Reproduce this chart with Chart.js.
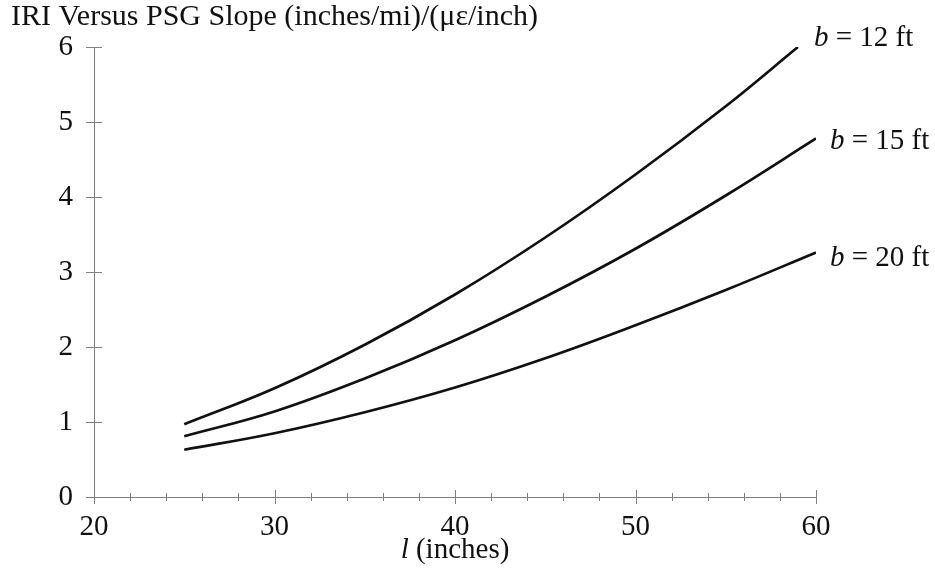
<!DOCTYPE html>
<html>
<head>
<meta charset="utf-8">
<script src="https://cdn.jsdelivr.net/npm/chart.js@4"></script>
<style>
  html, body { margin: 0; padding: 0; background: #fff; }
  #wrap { width: 935px; height: 571px; }
</style>
</head>
<body>
<div id="wrap"><canvas id="iriChart" width="935" height="571"></canvas></div>
<script>
// slab length l (inches) and IRI-vs-PSG slope for each slab width b
const len12 = [25, 30, 35, 40, 45, 50, 55, 59];
const slope12 = [0.97, 1.45, 2.03, 2.70, 3.46, 4.30, 5.21, 6.00];
const len15 = [25, 30, 35, 40, 45, 50, 55, 60];
const slope15 = [0.81, 1.14, 1.58, 2.09, 2.67, 3.31, 4.02, 4.78];
const len20 = [25, 30, 35, 40, 45, 50, 55, 60];
const slope20 = [0.63, 0.85, 1.13, 1.46, 1.85, 2.29, 2.76, 3.26];
const curveNames = ['12', '15', '20'];

const yTicks = [0, 1, 2, 3, 4, 5, 6];
const xMajor = [20, 30, 40, 50, 60];
const xMinor = [22, 24, 26, 28, 32, 34, 36, 38, 42, 44, 46, 48, 52, 54, 56, 58];

const FONT = "'Liberation Serif', 'DejaVu Serif', serif";
const AXIS_COLOR = '#808080';

function pts(xs, ys) {
    return xs.map((x, i) => ({ x: x, y: ys[i] }));
}

function series(xs, ys) {
    return {
        data: pts(xs, ys),
        borderColor: '#111',
        borderWidth: 2.7,
        pointRadius: 0,
        fill: false,
        tension: 0.4
    };
}

// tick marks crossing the axes, plus the text around the plot
const decorations = {
    id: 'decorations',
    afterDraw(chart) {
        const ctx = chart.ctx;
        const xs = chart.scales.x;
        const ys = chart.scales.y;
        const ax = xs.left;
        const ay = ys.bottom;

        ctx.save();
        ctx.strokeStyle = AXIS_COLOR;
        ctx.lineWidth = 1;
        ctx.beginPath();
        yTicks.forEach(v => {
            const py = Math.round(ys.getPixelForValue(v)) + 0.5;
            ctx.moveTo(ax - 8, py);
            ctx.lineTo(ax + 8, py);
        });
        xMajor.forEach(v => {
            const px = Math.round(xs.getPixelForValue(v)) + 0.5;
            ctx.moveTo(px, ay - 7);
            ctx.lineTo(px, ay + 7);
        });
        xMinor.forEach(v => {
            const px = Math.round(xs.getPixelForValue(v)) + 0.5;
            ctx.moveTo(px, ay - 4);
            ctx.lineTo(px, ay + 4);
        });
        ctx.stroke();

        ctx.fillStyle = '#111';
        ctx.textBaseline = 'alphabetic';

        // title
        ctx.font = '30px ' + FONT;
        ctx.textAlign = 'left';
        ctx.fillText('IRI Versus PSG Slope (inches/mi)/(\u03bc\u03b5/inch)', 11, 25);

        // x axis title with italic l
        const italic = 'italic 29px ' + FONT;
        const upright = '29px ' + FONT;
        ctx.font = italic;
        const w1 = ctx.measureText('l').width;
        ctx.font = upright;
        const w2 = ctx.measureText(' (inches)').width;
        let tx = xs.getPixelForValue(40) - (w1 + w2) / 2;
        ctx.font = italic;
        ctx.fillText('l', tx, 558);
        ctx.font = upright;
        ctx.fillText(' (inches)', tx + w1, 558);

        // curve labels at the end of each line
        const dx = [16, 14, 14];
        const dy = [-1, 10, 13];
        chart.data.datasets.forEach((ds, i) => {
            const last = ds.data[ds.data.length - 1];
            let lx = xs.getPixelForValue(last.x) + dx[i];
            const ly = ys.getPixelForValue(last.y) + dy[i];
            ctx.font = italic;
            ctx.fillText('b', lx, ly);
            lx += ctx.measureText('b').width;
            ctx.font = upright;
            ctx.fillText(' = ' + curveNames[i] + ' ft', lx, ly);
        });
        ctx.restore();
    }
};

new Chart(document.getElementById('iriChart'), {
    type: 'line',
    data: {
        datasets: [
            series(len12, slope12),
            series(len15, slope15),
            series(len20, slope20)
        ]
    },
    options: {
        responsive: false,
        animation: false,
        layout: { padding: { left: 0, top: 47, right: 119, bottom: 0 } },
        plugins: {
            legend: { display: false },
            tooltip: { enabled: false }
        },
        scales: {
            x: {
                type: 'linear',
                min: 20,
                max: 60,
                afterFit(scale) { scale.height = 74; },
                grid: { display: false, drawTicks: false },
                border: { display: true, color: AXIS_COLOR, width: 1 },
                ticks: {
                    stepSize: 10,
                    padding: 13,
                    color: '#111',
                    font: { family: FONT, size: 29 }
                }
            },
            y: {
                type: 'linear',
                min: 0,
                max: 6,
                afterFit(scale) { scale.width = 94; },
                grid: { display: false, drawTicks: false },
                border: { display: true, color: AXIS_COLOR, width: 1 },
                ticks: {
                    stepSize: 1,
                    padding: 21,
                    color: '#111',
                    font: { family: FONT, size: 29 }
                }
            }
        }
    },
    plugins: [decorations]
});
</script>
</body>
</html>
